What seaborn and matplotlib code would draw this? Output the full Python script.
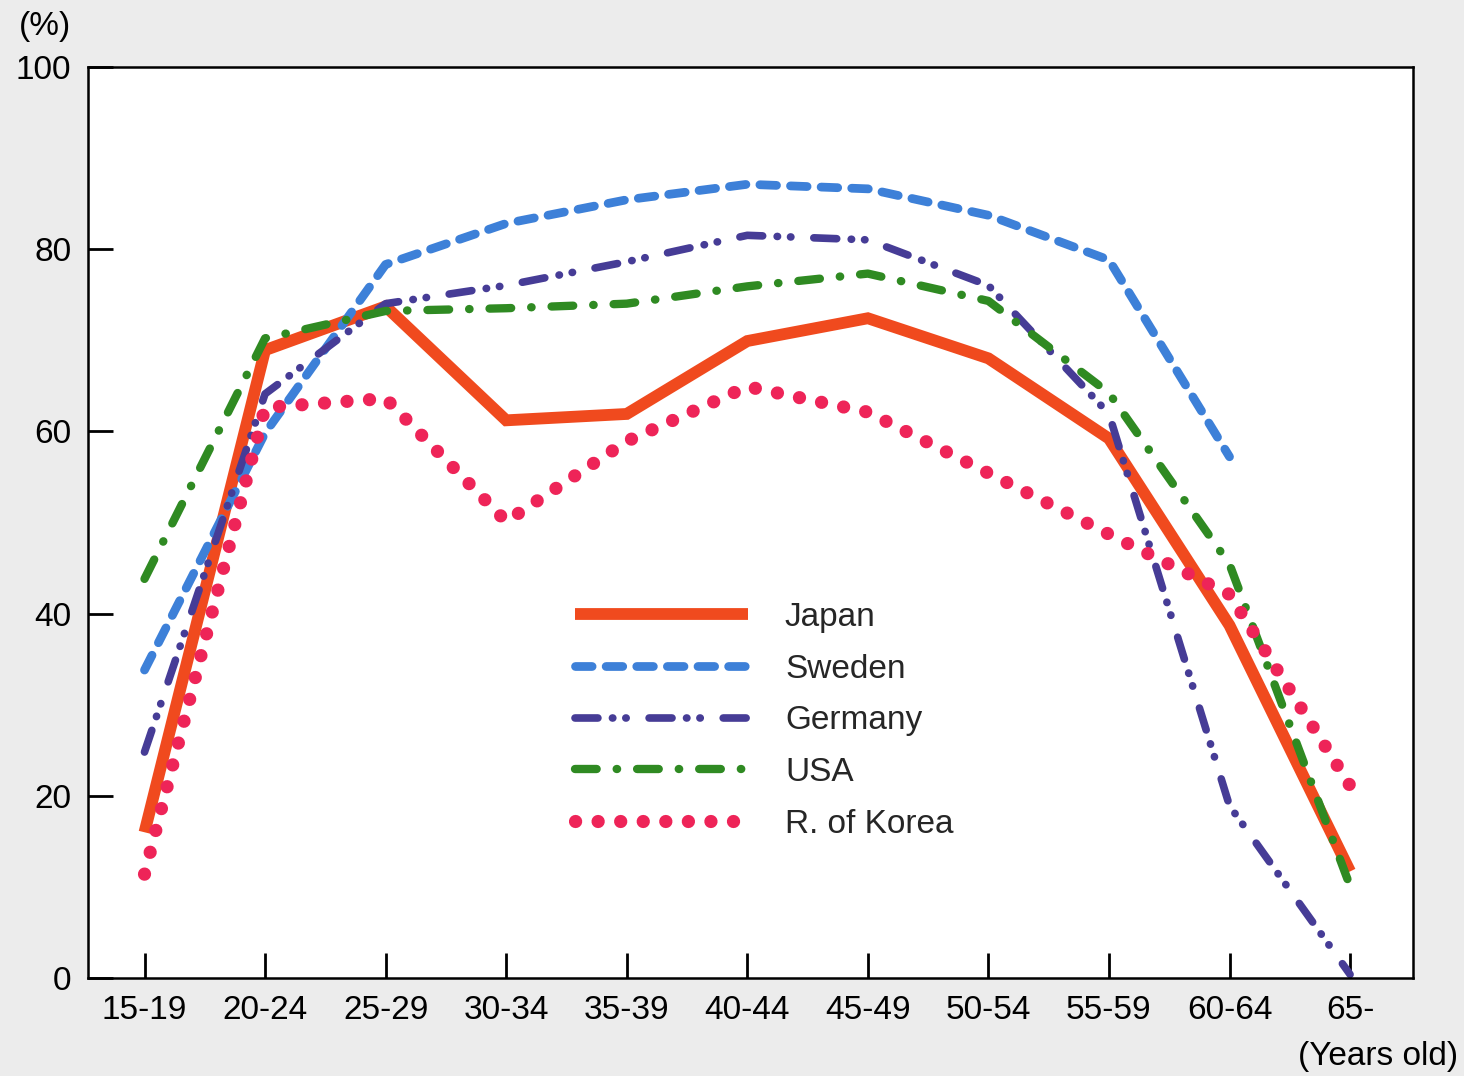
import numpy as np
import pandas as pd
import matplotlib
matplotlib.use("Agg")
import matplotlib.pyplot as plt
import seaborn as sns

ages = ['15-19', '20-24', '25-29', '30-34', '35-39', '40-44',
        '45-49', '50-54', '55-59', '60-64', '65-']

japan   = [16.0, 68.9, 73.7, 61.2, 61.9, 69.9, 72.4, 68.0, 59.2, 38.7, 11.7]
sweden  = [33.8, 59.8, 78.3, 82.8, 85.4, 87.1, 86.6, 83.7, 78.8, 57.2]
germany = [24.8, 64.1, 74.0, 76.0, 78.6, 81.5, 81.0, 76.0, 61.9, 18.9, 0.4]
usa     = [43.8, 70.2, 73.2, 73.5, 74.0, 75.9, 77.3, 74.3, 64.2, 45.4, 10.1]
korea   = [11.4, 62.6, 63.6, 50.1, 58.9, 64.9, 62.1, 55.4, 48.7, 42.1, 21.1]

series = [
    ('Japan', japan, '#f04a1e', 8.5, None),
    ('Sweden', sweden, '#3d80d8', 6.3, (1.9, 1.6)),
    ('Germany', germany, '#463c96', 5.5, (3.0, 1.9, 0.05, 1.7, 0.05, 3.0)),
    ('USA', usa, '#2f8a22', 6.0, (2.6, 2.4, 0.05, 2.4)),
    ('R. of Korea', korea, '#ee2458', 9.5, (0.01, 1.7)),
]

sns.set_style("ticks")
plt.rcParams['font.family'] = ['Liberation Sans', 'DejaVu Sans']

fig = plt.figure(figsize=(14.64, 10.76), dpi=100, facecolor='#ececec')
ax = fig.add_axes([0.060, 0.091, 0.905, 0.847])
ax.set_facecolor('white')

handles = []
for name, vals, color, lw, dash in series:
    df = pd.DataFrame({'x': np.arange(len(vals)), 'y': vals})
    sns.lineplot(data=df, x='x', y='y', ax=ax, color=color, linewidth=lw)
    line = ax.lines[-1]
    line.set_label(name)
    if dash is not None:
        line.set_dashes(dash)
    line.set_dash_capstyle('round')
    line.set_solid_capstyle('butt')
    line.set_solid_joinstyle('miter')
    handles.append(line)

ax.set_xlim(-0.47, 10.52)
ax.set_ylim(0, 100)
ax.set_xticks(np.arange(len(ages)))
ax.set_xticklabels(ages)
ax.set_yticks([0, 20, 40, 60, 80, 100])
ax.set_xlabel('')
ax.set_ylabel('')
ax.tick_params(direction='in', length=18, width=2, labelsize=24, pad=12, colors='black')
for sp in ax.spines.values():
    sp.set_visible(True)
    sp.set_linewidth(1.8)
    sp.set_color('black')

leg = ax.legend(handles=handles, loc='center', bbox_to_anchor=(0.522, 0.330),
                bbox_transform=fig.transFigure, frameon=False, fontsize=24,
                handlelength=5.2, handletextpad=1.1, labelspacing=0.62, borderpad=0)

fig.text(0.031, 0.975, '(%)', ha='center', va='center', fontsize=24, color='black')
fig.text(0.941, 0.018, '(Years old)', ha='center', va='center', fontsize=24, color='black')

fig.savefig('out.png', dpi=100, facecolor=fig.get_facecolor())
